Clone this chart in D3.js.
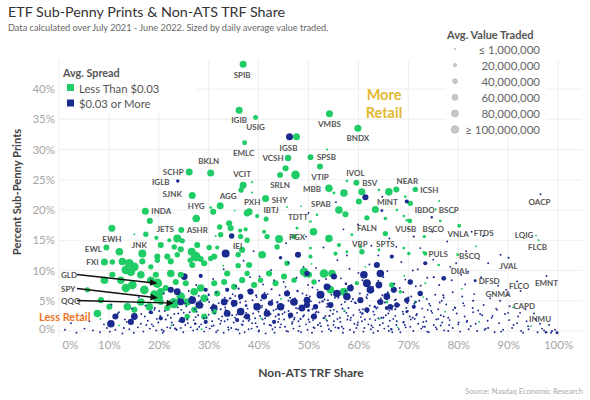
<!DOCTYPE html>
<html>
<head>
<meta charset="utf-8">
<script src="https://d3js.org/d3.v7.min.js"></script>
<style>
  body { margin: 0; background: #fff; }
  text { font-family: Lato, "Open Sans", sans-serif; }
</style>
</head>
<body>
<svg width="590" height="400"></svg>
<script>

// labelled ETFs: ticker, non-ATS TRF share %, sub-penny prints %, avg value traded ($M), spread group (0 = < $0.03, 1 = >= $0.03)
var labeled = [
  ["SPIB",36.9,44.1,85,0], ["IGIB",36.1,36.5,85,0], ["USIG",39.4,35.3,43,0], ["EMLC",37.2,31.1,43,0],
  ["IGSB",46.2,32.1,85,1], ["VMBS",54.2,35.9,85,0], ["BNDX",59.9,33.5,85,0], ["VCSH",45.9,28.6,73,0],
  ["SPSB",50.4,28.7,62,0], ["BKLN",30.4,26.1,85,0], ["SCHP",26.1,26.3,85,0], ["IGLB",23.8,24.8,20,1],
  ["SJNK",26.7,22.4,85,0], ["VCIT",36.9,24.1,85,0], ["AGG",32.3,20.7,85,0], ["PXH",38.1,19.7,85,0],
  ["HYG",27.5,18.6,100,0], ["INDA",17.3,19.8,85,0], ["JETS",24.5,16.7,60,0], ["ASHR",23.7,15.3,110,0],
  ["EWH",10.6,17.0,85,0], ["EWL",9.5,13.8,60,0], ["FXI",9.1,11.4,85,0], ["JNK",16.7,12.8,110,0],
  ["IEI",33.4,12.8,110,1], ["PGX",44.1,15.2,110,0], ["TDTT",47.7,17.0,15,0], ["IBTJ",41.5,18.5,45,0],
  ["SHY",41.4,21.9,85,0], ["SRLN",44.3,25.8,60,0], ["VTIP",52.3,27.2,62,0], ["MBB",54.1,23.6,100,0],
  ["SPAB",56.1,20.0,100,0], ["IVOL",59.6,24.5,62,0], ["BSV",60.7,23.0,85,0], ["MINT",63.4,20.1,85,0],
  ["NEAR",67.6,23.4,62,0], ["ICSH",71.4,23.4,50,0], ["IBDO",74.7,18.8,10,1], ["BSCP",75.5,20.1,8,0],
  ["BSCO",73.2,15.6,20,0], ["VUSB",70.3,18.2,40,0], ["FALN",61.7,18.7,50,0], ["VRP",60.7,13.1,50,0],
  ["SPTS",65.4,16.1,50,0], ["PULS",73.4,12.8,30,0], ["VNLA",80.2,17.4,25,0], ["FTDS",82.7,16.4,2,1],
  ["BSCQ",79.9,12.6,15,0], ["OACP",96.5,22.6,2,1], ["LQIG",95.6,15.8,2,0], ["FLCB",96.1,15.0,8,0],
  ["JVAL",90.1,12.1,8,1], ["DIAL",77.1,8.7,40,1], ["DFSD",83.4,8.3,15,1], ["FLCO",89.6,6.8,3,1],
  ["EMNT",97.7,9.1,3,1], ["GNMA",88.4,5.0,3,1], ["CAPD",92.4,3.0,2,1], ["INMU",94.0,0.8,3,1]
];

// ETFs pointed at with arrows
var arrowed = [["GLD",19.7,7.9,160,0], ["SPY",19.8,5.5,200,0], ["QQQ",23.0,4.6,200,0]];

// unlabelled ETFs, spread < $0.03: share %, sub-penny %, value $M
var greenBig = [
  [47.6,32.1,85],[53.7,30.0,8],[45.4,26.9,65],[47.4,25.8,130],[36.5,23.3,50],[38.7,24.6,8],[38.7,22.9,8],
  [30.9,19.7,65],[30.4,20.4,12],[37.7,19.5,80],[39.7,19.0,30],[45.7,20.5,3],[51.7,19.2,12],[50.4,18.1,12],
  [41.7,15.6,50],[41.1,16.4,30],[51.0,16.4,100],[54.1,15.3,100],[56.1,14.2,30],[50.4,13.7,15],[41.1,12.6,30],
  [55.4,12.8,30],[57.7,13.1,15],[60.4,13.9,15],[64.1,13.4,15],[69.1,13.7,15],[73.1,13.0,12],[57.1,22.8,100],
  [57.7,24.8,12],[55.1,22.8,15],[57.4,19.3,65],[60.1,21.4,65],[64.1,23.3,12],[66.1,23.0,100],[69.4,22.2,12],
  [70.4,21.1,50],[65.4,18.6,22],[67.7,20.0,12],[69.1,19.0,12],[69.7,18.3,12],[76.4,18.2,12],
  [18.2,18.2,65],[17.4,16.0,50],[15.1,16.0,3],[19.5,15.4,30],[24.7,14.9,50],[32.2,17.2,50],[34.1,17.8,65],
  [34.4,17.0,65],[36.3,16.6,30],[37.4,16.8,30],[31.4,15.7,3],[30.1,13.8,50],[31.7,13.8,30],[35.9,12.6,50],
  [37.7,15.0,50],[40.7,12.6,100],[45.7,11.2,50],[26.6,13.1,110],[24.4,13.5,65],[19.7,12.3,65],[21.7,12.3,65],
  [26.3,11.7,50],[28.4,11.9,65],[30.4,12.0,50],[32.9,10.8,3],[35.9,10.8,50],[38.1,10.9,65],
  [12.1,13.1,100],[10.7,11.4,50],[12.7,11.5,100],[14.1,11.2,130],[15.1,10.6,130],[13.4,10.1,130],[14.4,9.8,130],
  [16.7,11.5,65],[18.4,10.6,50],[20.4,14.2,65],[19.7,11.7,50],[22.1,15.0,30],[23.1,13.9,50],[22.4,11.5,65],
  [23.7,12.6,50],[27.4,12.3,160],[27.7,14.2,65],[29.1,11.2,65],[26.7,10.9,65],[31.1,12.3,65],[32.4,15.9,50],
  [36.4,15.6,50],[36.7,13.4,65],[43.7,13.9,50],[47.1,15.6,50],[50.4,12.3,30],
  [9.1,8.4,100],[10.7,9.3,65],[12.4,8.4,100],[13.4,7.1,130],[14.7,7.6,130],[16.4,9.3,100],[17.1,6.8,130],
  [18.4,8.4,100],[19.4,9.3,65],[19.1,6.0,130],[20.4,6.5,100],[21.4,7.1,65],[22.4,9.5,100],[23.4,8.1,65],
  [24.4,9.3,65],[25.4,7.9,65],[24.4,5.7,130],[25.7,4.8,100],[27.1,6.5,100],[28.4,7.1,100],[29.1,5.4,100],
  [31.1,7.9,65],[31.7,6.2,65],[33.1,8.1,65],[33.7,9.5,65],[35.1,7.3,65],[36.7,8.4,65],[37.7,9.5,50],
  [39.1,7.6,65],[40.4,8.4,50],[42.1,9.5,65],[43.4,7.9,65],[45.1,9.0,65],[47.1,8.4,50],[49.4,9.3,50],[51.1,8.1,50],
  [7.7,2.9,100],[13.7,4.0,100],[16.4,4.8,100],[15.1,3.5,65],[18.1,4.0,100],[20.4,4.8,65],[21.7,3.8,65],
  [27.1,3.5,65],[29.1,2.4,65],[31.1,3.2,50],[25.7,2.4,50],[5.7,6.8,50],[8.4,5.1,65],[10.1,4.0,65],
  [58.7,15.9,15],[70.1,12.8,22],[76.1,10.9,12],[49.1,9.8,130],[50.1,9.3,65],[53.1,9.5,130],[54.7,9.5,100],
  [54.4,6.8,100],[57.1,6.5,110],[59.7,7.9,30],[66.7,7.6,50],[68.4,6.5,22],[71.4,4.8,15],[73.4,7.9,8],[65.7,4.8,15]
];

// unlabelled ETFs, spread >= $0.03
var blueBig = [
  [34.6,15.7,50],[25.1,9.0,80],[23.7,6.5,80],[22.4,6.8,65],[26.7,5.1,100],[28.1,4.3,100],[24.4,4.8,80],
  [31.1,3.8,80],[33.7,2.9,80],[33.1,4.8,80],[35.1,4.6,80],[36.4,3.2,100],[37.7,2.4,65],[39.7,4.0,100],
  [41.7,2.9,80],[44.4,4.0,100],[47.1,4.8,100],[48.7,3.8,80],[49.7,5.1,80],[51.1,2.4,65],[10.4,1.2,100],
  [11.3,2.4,65],[15.1,2.4,80],[14.4,1.5,65],[24.7,1.8,65],[49.7,9.5,50],[52.4,6.0,110],[53.7,7.3,80],
  [55.1,9.0,65],[55.7,6.2,100],[57.7,5.7,100],[58.4,7.1,80],[61.1,9.3,100],[61.7,7.9,110],[62.4,6.8,100],
  [63.7,10.9,65],[64.4,9.5,100],[64.1,7.6,80],[65.7,5.7,80],[67.1,6.8,65],[67.7,4.3,50],[70.4,8.1,50],
  [72.4,6.2,50],[73.4,11.2,30],[49.7,4.3,65],[51.4,4.0,50],[54.4,4.3,65],[60.4,5.1,65],[64.4,4.8,65],
  [66.4,4.0,50],[69.7,5.1,50],[71.1,4.0,30],[61.7,3.5,50],[38.4,6.5,65],[41.1,5.7,65],[42.4,4.6,50],
  [45.7,6.2,65],[46.4,2.6,50],[43.1,1.5,30],[35.7,1.8,30],[29.4,1.5,30],[20.4,2.1,30],[18.4,3.1,30],
  [29.4,6.8,30],[36.4,5.7,50],[33.7,6.8,30],[28.4,9.1,30],[44.4,12.1,22],[47.9,12.6,65],[69.7,3.2,15],
  [65.7,3.8,30],[61.4,22.1,65],[69.7,21.4,30],[64.7,19.9,15],[71.1,15.6,8],[66.7,12.3,30],
  [97.6,-0.2,12],[99.8,-0.3,15],[98.8,0.0,8]
];

// small funds, spread >= $0.03
var blueSmall = [
  [17.5,1.0,6],[19.2,3.8,8],[21.8,2.6,5],[23.3,0.4,10],[25.0,3.0,6],[26.5,5.6,8],[27.3,1.2,12],[28.6,3.9,6],
  [30.0,6.0,10],[30.6,0.8,6],[32.4,3.6,8],[33.2,1.6,5],[34.3,5.4,10],[35.5,0.3,6],[36.0,7.0,8],[37.5,4.2,12],
  [38.7,1.3,6],[39.5,5.9,8],[40.2,9.0,6],[41.5,3.5,10],[42.6,6.9,8],[43.3,0.6,6],[44.0,2.7,12],[45.0,8.1,6],
  [46.0,5.0,8],[46.8,1.5,6],[47.8,6.6,10],[48.4,2.0,8],[49.0,10.6,6],[50.0,3.4,12],[50.8,7.2,6],[51.9,1.0,8],
  [52.8,4.9,10],[53.5,8.6,6],[54.2,2.5,8],[55.3,5.5,6],[56.0,0.5,10],[56.8,3.7,8],[57.5,7.8,12],[58.4,1.8,6],
  [59.3,4.7,8],[60.0,9.6,6],[60.8,2.9,10],[61.8,6.0,8],[62.6,0.9,6],[63.3,4.0,12],[64.0,8.3,6],[65.0,2.2,8],
  [65.9,6.4,6],[66.6,0.3,10],[67.4,3.6,8],[68.3,7.1,6],[69.0,1.4,8],[70.0,5.5,10],[70.9,10.0,6],[71.6,2.6,8],
  [72.5,7.5,6],[73.3,0.7,8],[74.2,4.5,6],[75.1,8.9,8],[76.0,2.0,6],[77.0,5.9,8],[78.2,1.0,6],[79.4,3.8,8],
  [80.6,9.3,6],[81.8,1.7,6],[83.0,5.0,8],[84.4,2.8,6],[86.0,0.5,8],[87.8,3.5,6],[90.2,1.8,6],[92.5,6.6,5],
  [20.6,0.2,8],[16.5,2.8,6],[13.0,0.5,8],[12.0,3.1,5],[57.7,12.5,6],[67.6,13.9,5],[74.8,16.4,5],[79.6,11.2,6]
];

// smallest funds (<= $1M traded), spread >= $0.03
var blueTiny = [
  [1.2,0.2],[3.5,-0.3],[5.1,0.4],[6.8,0.1],[8.2,-0.2],[9.6,0.5],[11.3,0.2],[12.7,-0.4],[14.1,0.3],[15.8,0.6],
  [16.9,-0.1],[18.2,0.4],[19.5,0.1],[20.8,-0.3],[22.3,0.5],[23.6,0.2],[24.9,-0.2],[26.4,0.6],[27.7,0.3],[29.1,-0.1],
  [30.2,0.4],[31.8,0.1],[33.0,-0.3],[34.5,0.5],[35.9,0.2],[37.2,-0.2],[38.6,0.4],[40.1,0.1],[41.4,-0.4],[42.8,0.3],
  [44.3,0.6],[45.6,0.0],[47.0,0.4],[48.5,-0.2],[49.8,0.2],[51.2,0.5],[52.7,-0.1],[54.1,0.3],[55.4,0.6],[56.9,-0.3],
  [58.3,0.2],[59.6,0.5],[61.0,-0.1],[62.5,0.3],[63.9,0.0],[65.2,0.4],[66.8,-0.2],[68.1,0.3],[69.5,0.6],[71.0,0.0],
  [72.6,0.4],[74.1,-0.2],[75.7,0.3],[77.2,0.1],[78.9,0.5],[80.4,-0.1],[82.1,0.3],[83.8,0.0],[85.5,0.4],[87.3,-0.2],
  [89.0,0.2],[90.8,0.5],[92.6,0.0],[94.1,0.3],[95.9,-0.2],[97.2,0.1],[98.6,-0.3],[99.4,0.2],
  [2.4,1.3],[6.1,1.6],[9.0,1.1],[13.2,1.9],[16.4,1.2],[17.8,1.7],[19.9,1.4],[21.4,1.9],[22.9,1.0],[24.1,1.6],
  [25.8,1.3],[27.0,1.8],[28.5,1.1],[30.7,1.6],[32.3,1.2],[33.8,1.9],[35.0,1.4],[36.6,1.1],[38.0,1.7],[39.4,1.3],
  [40.8,1.9],[42.2,1.0],[43.9,1.5],[45.1,1.9],[46.7,1.2],[48.0,1.6],[49.5,1.1],[50.9,1.8],[52.3,1.3],[53.7,1.7],
  [55.0,1.0],[56.4,1.5],[57.8,1.9],[59.2,1.2],[60.7,1.6],[62.0,1.1],[63.4,1.8],[64.9,1.3],[66.3,1.7],[67.6,1.0],
  [69.1,1.5],[70.5,1.9],[72.0,1.2],[73.6,1.6],[75.1,1.0],[76.8,1.4],[78.3,1.8],[80.0,1.1],[81.7,1.5],[83.5,1.2],
  [85.9,1.7],[88.2,1.3],[91.1,1.0],[93.7,1.6],[96.4,1.2],
  [4.7,2.6],[11.8,2.9],[15.2,2.3],[18.7,3.0],[20.3,2.5],[23.1,2.8],[24.6,2.2],[26.2,3.1],[27.9,2.6],[29.6,2.2],
  [31.2,2.9],[32.7,2.4],[34.1,3.1],[35.6,2.7],[37.1,2.3],[38.9,2.9],[40.3,2.5],[41.9,3.2],[43.4,2.4],[44.8,2.8],
  [46.2,2.2],[47.7,3.0],[49.1,2.6],[50.6,2.3],[52.0,3.1],[53.4,2.5],[54.9,2.8],[56.3,2.2],[57.6,3.0],[59.0,2.6],
  [60.5,2.3],[61.8,3.1],[63.2,2.7],[64.6,2.2],[66.0,2.9],[67.4,2.5],[68.9,3.2],[70.3,2.4],[71.7,2.8],[73.2,2.3],
  [74.8,3.0],[76.5,2.6],[78.0,2.2],[79.7,2.9],[81.3,2.4],[83.0,3.1],[84.8,2.6],[86.7,2.2],[89.4,2.8],[92.0,2.4],[95.2,2.9],
  [10.5,4.4],[14.6,3.7],[17.3,4.2],[19.1,3.5],[22.0,4.5],[23.8,3.9],[25.3,4.6],[27.2,3.6],[28.8,4.3],[30.4,3.8],
  [32.0,4.6],[33.4,3.5],[34.9,4.1],[36.3,4.7],[37.8,3.7],[39.2,4.4],[40.6,3.9],[42.0,4.6],[43.5,3.6],[45.0,4.2],
  [46.5,4.8],[47.9,3.7],[49.4,4.3],[50.8,3.6],[52.2,4.7],[53.7,4.0],[55.1,3.5],[56.6,4.4],[58.0,3.8],[59.5,4.6],
  [60.9,3.6],[62.3,4.2],[63.8,3.9],[65.3,4.7],[66.7,3.6],[68.2,4.3],[69.6,3.8],[71.2,4.5],[72.8,3.7],[74.4,4.2],
  [76.0,3.6],[77.6,4.4],[79.3,3.9],[81.0,4.6],[82.9,3.8],[85.1,4.3],[87.6,3.7],[90.3,4.1],[93.5,3.6],
  [16.0,5.6],[21.0,6.2],[24.0,5.3],[26.0,6.6],[28.0,5.8],[29.8,5.2],[31.5,6.4],[33.2,5.5],[34.8,6.1],[36.2,5.3],
  [37.9,6.7],[39.6,5.6],[41.2,6.3],[42.7,5.1],[44.2,5.9],[45.8,6.6],[47.3,5.4],[48.8,6.2],[50.3,5.7],[51.8,6.8],
  [53.2,5.2],[54.6,6.0],[56.0,5.5],[57.4,6.6],[58.9,5.3],[60.3,6.2],[61.6,5.6],[63.0,6.7],[64.5,5.4],[66.0,6.1],
  [67.5,5.2],[69.0,6.4],[70.6,5.7],[72.1,6.3],[73.7,5.3],[75.4,6.0],[77.1,5.5],[78.9,6.4],[80.8,5.7],[83.2,6.1],
  [86.4,5.4],[89.9,6.0],
  [27.5,7.6],[30.9,8.6],[35.5,7.4],[38.3,8.9],[40.9,7.7],[43.1,8.4],[45.4,7.3],[47.6,8.8],[49.9,7.6],[52.1,8.3],
  [54.3,7.4],[56.5,8.7],[58.6,7.6],[60.8,8.4],[62.9,7.3],[65.0,8.9],[67.2,7.8],[69.4,8.5],[71.5,7.4],[73.8,8.8],
  [76.2,7.6],[78.7,8.4],[81.4,7.7],[84.6,8.9],[88.0,7.5],[91.8,8.2],
  [33.0,10.2],[37.0,11.6],[42.5,10.1],[46.0,11.3],[51.5,10.4],[55.8,11.7],[58.2,10.3],[62.2,11.0],[65.8,9.9],
  [68.6,11.4],[71.9,10.2],[75.0,11.8],[78.4,10.6],[82.0,9.8],[86.0,11.2],
  [39.0,13.2],[45.5,14.5],[49.5,15.6],[53.0,13.8],[57.0,16.8],[62.6,14.1],[66.2,15.3],[72.4,13.7],[77.8,14.8],
  [81.6,13.2],[85.0,15.7],[70.0,16.9],[59.9,17.6],[64.0,12.5],[88.5,12.6],[50.0,19.5],[55.5,21.3],[64.8,22.2],
  [18.9,0.8],[21.7,0.6],[25.3,1.0],[28.1,0.7],[31.0,0.9],[33.9,0.6],[36.8,1.0],[39.7,0.7],[42.5,0.9],[45.3,0.7],
  [48.2,0.8],[51.0,0.6],[53.9,0.9],[56.7,0.7],[59.8,1.0],[62.9,0.6],[66.0,0.8],[69.3,1.0],[72.9,0.7],[76.5,0.9],
  [19.6,2.0],[22.4,2.2],[25.7,1.9],[29.0,2.1],[32.0,2.0],[35.3,2.2],[38.2,1.9],[41.3,2.1],[44.1,2.0],[47.2,2.2],
  [50.0,1.9],[53.0,2.1],[55.8,2.0],[58.5,2.2],[61.3,1.9],[64.0,2.1],[67.0,2.0],[70.9,2.2],[75.6,1.9],
  [21.2,3.3],[24.5,3.5],[27.6,3.2],[30.8,3.4],[33.5,3.3],[36.9,3.5],[40.0,3.2],[43.0,3.4],[46.0,3.3],[48.6,3.5],
  [51.6,3.2],[54.4,3.4],[57.2,3.3],[60.2,3.5],[63.0,3.2],[66.2,3.4],[69.9,3.3],[73.9,3.5],
  [23.0,4.9],[26.8,5.1],[30.1,4.8],[33.8,5.0],[37.4,4.9],[40.5,5.1],[43.8,4.8],[47.0,5.0],[50.5,4.9],[53.9,5.1],
  [57.3,4.8],[60.6,5.0],[63.9,4.9],[67.3,5.1],[71.5,4.8],[76.7,5.0],
  [10.2,-0.1],[13.6,1.5],[15.0,-0.3],[17.2,2.4],[18.6,1.1],[20.1,3.3],[21.0,0.0],[22.6,1.4],[23.9,2.9],[24.4,0.5],
  [25.5,4.1],[26.9,0.1],[27.4,2.3],[28.3,5.0],[29.5,0.6],[30.0,2.7],[30.9,4.4],[31.5,-0.2],[32.5,1.7],[33.3,3.9],
  [34.0,0.2],[34.7,2.6],[35.3,5.8],[36.2,-0.4],[36.9,1.6],[37.5,3.0],[38.0,0.3],[38.8,5.1],[39.3,2.1],[40.0,-0.1],
  [40.7,4.2],[41.1,1.2],[41.8,6.1],[42.4,2.8],[43.2,-0.3],[43.7,4.7],[44.5,1.1],[45.2,3.1],[45.9,-0.1],[46.3,5.5],
  [47.1,1.9],[47.5,3.8],[48.0,0.0],[48.9,2.4],[49.6,5.9],[50.2,1.5],[50.7,-0.3],[51.4,3.0],[52.0,6.4],[52.5,0.8],
  [53.2,2.2],[53.8,4.5],[54.5,0.0],[55.1,1.6],[55.7,3.2],[56.2,6.1],[57.0,0.4],[57.9,2.5],[58.6,4.9],[59.1,-0.2],
  [59.9,1.4],[60.4,3.1],[61.2,0.5],[61.7,5.4],[62.3,2.0],[63.0,-0.3],[63.6,3.7],[64.3,1.0],[64.8,5.9],[65.5,2.6],
  [66.1,0.0],[66.9,4.1],[67.7,1.6],[68.4,-0.2],[69.0,2.8],[69.8,4.6],[70.4,0.7],[71.3,2.0],[72.2,5.0],[73.0,1.5],
  [73.8,-0.1],[74.6,3.3],[75.5,0.6],[76.3,4.7],[77.1,2.4],[78.0,0.0],[79.0,3.5],[80.1,1.4],[81.2,4.2],[82.5,0.8],
  [84.0,3.4],[85.3,0.2],[86.9,2.5],[88.6,-0.1],[90.0,3.0],[91.8,1.3],[93.0,-0.3],[95.5,2.0],[96.8,0.4],[98.2,1.0]
];

// smallest funds, spread < $0.03
var greenTiny = [
  [22.5,0.9],[40.5,2.1],[44.5,5.3],[53.5,1.9],[57.2,3.4],[64.2,2.0],[67.9,0.6],[73.0,5.6],[77.4,3.2],[80.7,7.0],
  [84.2,1.5],[87.0,6.3],[61.4,10.6],[69.2,9.1],[50.6,11.1],[35.2,19.9],[48.5,20.6],[76.2,21.5],[79.0,19.6],
  [83.6,14.0],[91.0,3.9],[94.6,0.8],[28.6,0.3],[12.0,0.9],[8.3,2.0]
];

var xTicks = [0, 10, 20, 30, 40, 50, 60, 70, 80, 90, 100];
var yTicks = [0, 5, 10, 15, 20, 25, 30, 35, 40];
var spreadNames = ["Less Than $0.03", "$0.03 or More"];
var sizeSteps = [1, 20, 40, 60, 80, 100];
var sizeNames = ["\u2264 1,000,000", "20,000,000", "40,000,000", "60,000,000", "80,000,000", "\u2265 100,000,000"];

// label placement (pixel offset of label centre from its mark)
var labelOffset = {
  SPIB:[-1,11], IGIB:[0,10], USIG:[0,10], EMLC:[-1,10], IGSB:[-1,11], VMBS:[0,10], BNDX:[0,10],
  VCSH:[-15,0], SPSB:[16,0], BKLN:[-2,-12], SCHP:[-16,0], IGLB:[-17,1], SJNK:[-20,-1], VCIT:[-1,-11],
  AGG:[8,-10], PXH:[3,-10], HYG:[0,-12], INDA:[16,0], JETS:[-16,-1], ASHR:[20,-8], EWH:[0,11],
  EWL:[-13,1], FXI:[-12,0], JNK:[-3,-9], IEI:[12,-8], PGX:[18,-2], TDTT:[1,-11], IBTJ:[5,-9],
  SHY:[14,1], SRLN:[0,10], VTIP:[0,11], MBB:[-17,1], SPAB:[-18,-6], IVOL:[-1,-10], BSV:[8,-9],
  MINT:[12,-7], NEAR:[11,-8], ICSH:[14,1], IBDO:[-7,-7], BSCP:[13,1], BSCO:[9,-8], VUSB:[-4,8],
  FALN:[0,10], VRP:[-2,-8], SPTS:[0,10], PULS:[13,0], VNLA:[-1,8], FTDS:[12,1], BSCQ:[12,1],
  OACP:[-1,8], LQIG:[-12,0], FLCB:[-1,7], JVAL:[0,8], DIAL:[16,-7], DFSD:[14,0], FLCO:[13,-4],
  EMNT:[0,7], GNMA:[-2,-7], CAPD:[4,-7], INMU:[12,-7]
};
var arrowLabelPos = {GLD:[61,274.5], SPY:[61,288.5], QQQ:[61,300.5]};

var svg = d3.select("svg"),
    pane = {left: 60, right: 582, top: 60, bottom: 337},
    colors = ["#20cc65", "#1b2a8f"];

var x = d3.scaleLinear().domain([0, 100]).range([59, 558]);
var y = d3.scaleLinear().domain([0, 40]).range([331, 89]);
var r = d3.scaleSqrt().domain([0, 100]).range([0, 3.8]);
function rad(v) { return Math.min(5.2, Math.max(0.95, r(v))); }

svg.append("rect").attr("width", 590).attr("height", 400).attr("fill", "#fff");

// titles
svg.append("text").attr("x", 8).attr("y", 17).attr("font-size", 14.3).attr("fill", "#333")
    .text("ETF Sub-Penny Prints & Non-ATS TRF Share");
svg.append("text").attr("x", 8).attr("y", 30.5).attr("font-size", 9.2).attr("fill", "#666")
    .text("Data calculated over July 2021 - June 2022. Sized by daily average value traded.");

// gridlines
var grid = svg.append("g").attr("stroke", "#eeeeee").attr("stroke-width", 1);
grid.selectAll(".v").data(xTicks).join("line")
    .attr("x1", function(d) { return x(d); }).attr("x2", function(d) { return x(d); })
    .attr("y1", pane.top).attr("y2", pane.bottom);
grid.selectAll(".h").data(yTicks).join("line")
    .attr("x1", pane.left).attr("x2", pane.right)
    .attr("y1", function(d) { return y(d); }).attr("y2", function(d) { return y(d); });

// axes
var yAxis = svg.append("g").attr("transform", "translate(58,0)")
    .call(d3.axisLeft(y).tickValues(yTicks).tickSize(0).tickPadding(3).tickFormat(function(d) { return d + "%"; }));
var xAxis = svg.append("g").attr("transform", "translate(0,341)")
    .call(d3.axisBottom(x).tickValues(xTicks).tickSize(0).tickPadding(0).tickFormat(function(d) { return d + "%"; }));
[yAxis, xAxis].forEach(function(a) {
  a.select(".domain").remove();
  a.selectAll("text").attr("font-family", "Lato").attr("font-size", 11.5).attr("fill", "#a6a6a6");
});
xAxis.selectAll(".tick").filter(function(d) { return d === 0; }).select("text").attr("dx", 11);
yAxis.selectAll(".tick").filter(function(d) { return d === 0; }).select("text").attr("dy", "0.15em");

svg.append("text").attr("x", 311).attr("y", 377).attr("text-anchor", "middle")
    .attr("font-size", 12).attr("font-weight", "bold").attr("fill", "#444")
    .text("Non-ATS TRF Share");
svg.append("text").attr("transform", "translate(21,192) rotate(-90)").attr("text-anchor", "middle")
    .attr("font-size", 11.2).attr("font-weight", "bold").attr("fill", "#444")
    .text("Percent Sub-Penny Prints");

// marks
var pts = [].concat(
  labeled.map(function(d) { return {x: d[1], y: d[2], v: d[3], g: d[4]}; }),
  arrowed.map(function(d) { return {x: d[1], y: d[2], v: d[3], g: d[4]}; }),
  greenBig.map(function(d) { return {x: d[0], y: d[1], v: d[2], g: 0}; }),
  blueBig.map(function(d) { return {x: d[0], y: d[1], v: d[2], g: 1}; }),
  blueSmall.map(function(d) { return {x: d[0], y: d[1], v: d[2], g: 1}; }),
  blueTiny.map(function(d) { return {x: d[0], y: d[1], v: 1, g: 1}; }),
  greenTiny.map(function(d) { return {x: d[0], y: d[1], v: 1, g: 0}; })
).sort(function(a, b) { return b.v - a.v; });

svg.append("g").selectAll("circle").data(pts).join("circle")
    .attr("cx", function(d) { return x(d.x); })
    .attr("cy", function(d) { return y(d.y); })
    .attr("r", function(d) { return rad(d.v); })
    .attr("fill", function(d) { return colors[d.g]; });

// ticker labels
svg.append("g").selectAll("text").data(labeled).join("text")
    .attr("x", function(d) { return x(d[1]) + labelOffset[d[0]][0]; })
    .attr("y", function(d) { return y(d[2]) + labelOffset[d[0]][1]; })
    .attr("text-anchor", "middle").attr("dominant-baseline", "central")
    .attr("font-size", 8).attr("font-weight", "bold").attr("fill", "#555")
    .text(function(d) { return d[0]; });

// arrows to GLD / SPY / QQQ
svg.append("defs").append("marker").attr("id", "head")
    .attr("viewBox", "0 0 10 10").attr("refX", 9).attr("refY", 5)
    .attr("markerWidth", 5).attr("markerHeight", 5).attr("orient", "auto")
  .append("path").attr("d", "M0,0L10,5L0,10z").attr("fill", "#111");
var arr = svg.append("g");
arrowed.forEach(function(d) {
  var p = arrowLabelPos[d[0]];
  arr.append("text").attr("x", p[0]).attr("y", p[1]).attr("dominant-baseline", "central")
      .attr("font-size", 8).attr("font-weight", "bold").attr("fill", "#555").text(d[0]);
  arr.append("line").attr("x1", p[0] + 16).attr("y1", p[1])
      .attr("x2", x(d[1]) - 1).attr("y2", y(d[2]))
      .attr("stroke", "#111").attr("stroke-width", 1.4).attr("marker-end", "url(#head)");
});

// annotations
svg.append("text").attr("x", 384).attr("y", 100).attr("text-anchor", "middle")
    .attr("font-size", 14.5).attr("font-weight", "bold").attr("fill", "#e3b830").text("More");
svg.append("text").attr("x", 384).attr("y", 118).attr("text-anchor", "middle")
    .attr("font-size", 14.5).attr("font-weight", "bold").attr("fill", "#e3b830").text("Retail");
svg.append("text").attr("x", 39).attr("y", 321).attr("font-size", 11)
    .attr("font-weight", "bold").attr("fill", "#ec7428").text("Less Retail");

// spread legend
var lg = svg.append("g");
lg.append("rect").attr("x", 60).attr("y", 60).attr("width", 137).attr("height", 52).attr("fill", "#fff");
lg.append("text").attr("x", 63).attr("y", 77).attr("font-size", 10.8).attr("font-weight", "bold")
    .attr("fill", "#555").text("Avg. Spread");
lg.selectAll(".it").data(spreadNames).join("g")
    .attr("transform", function(d, i) { return "translate(67," + (88 + i * 15.5) + ")"; })
    .each(function(d, i) {
      var g = d3.select(this);
      g.append("rect").attr("x", 0).attr("y", -4).attr("width", 7).attr("height", 7).attr("fill", colors[i]);
      g.append("text").attr("x", 12).attr("y", 0).attr("dominant-baseline", "central")
          .attr("font-size", 11.3).attr("fill", "#555").text(d);
    });

// size legend
var sg = svg.append("g");
sg.append("rect").attr("x", 446).attr("y", 26).attr("width", 100).attr("height", 110).attr("fill", "#fff");
sg.append("text").attr("x", 447).attr("y", 38.5).attr("font-size", 11).attr("font-weight", "bold")
    .attr("fill", "#555").text("Avg. Value Traded");
sg.selectAll(".s").data(sizeSteps).join("g")
    .attr("transform", function(d, i) { return "translate(455," + (49 + i * 16.1) + ")"; })
    .each(function(d, i) {
      var g = d3.select(this);
      g.append("circle").attr("r", i === 0 ? 0.7 : r(d)).attr("fill", "#c8c8c8").attr("stroke", "#aaa").attr("stroke-width", 0.6);
      g.append("text").attr("x", 85).attr("y", 0).attr("text-anchor", "end").attr("dominant-baseline", "central")
          .attr("font-size", 11.5).attr("fill", "#666").text(sizeNames[i]);
    });

svg.append("text").attr("x", 583).attr("y", 394).attr("text-anchor", "end")
    .attr("font-size", 7.6).attr("fill", "#aaa").text("Source: Nasdaq Economic Research");

</script>
</body>
</html>
